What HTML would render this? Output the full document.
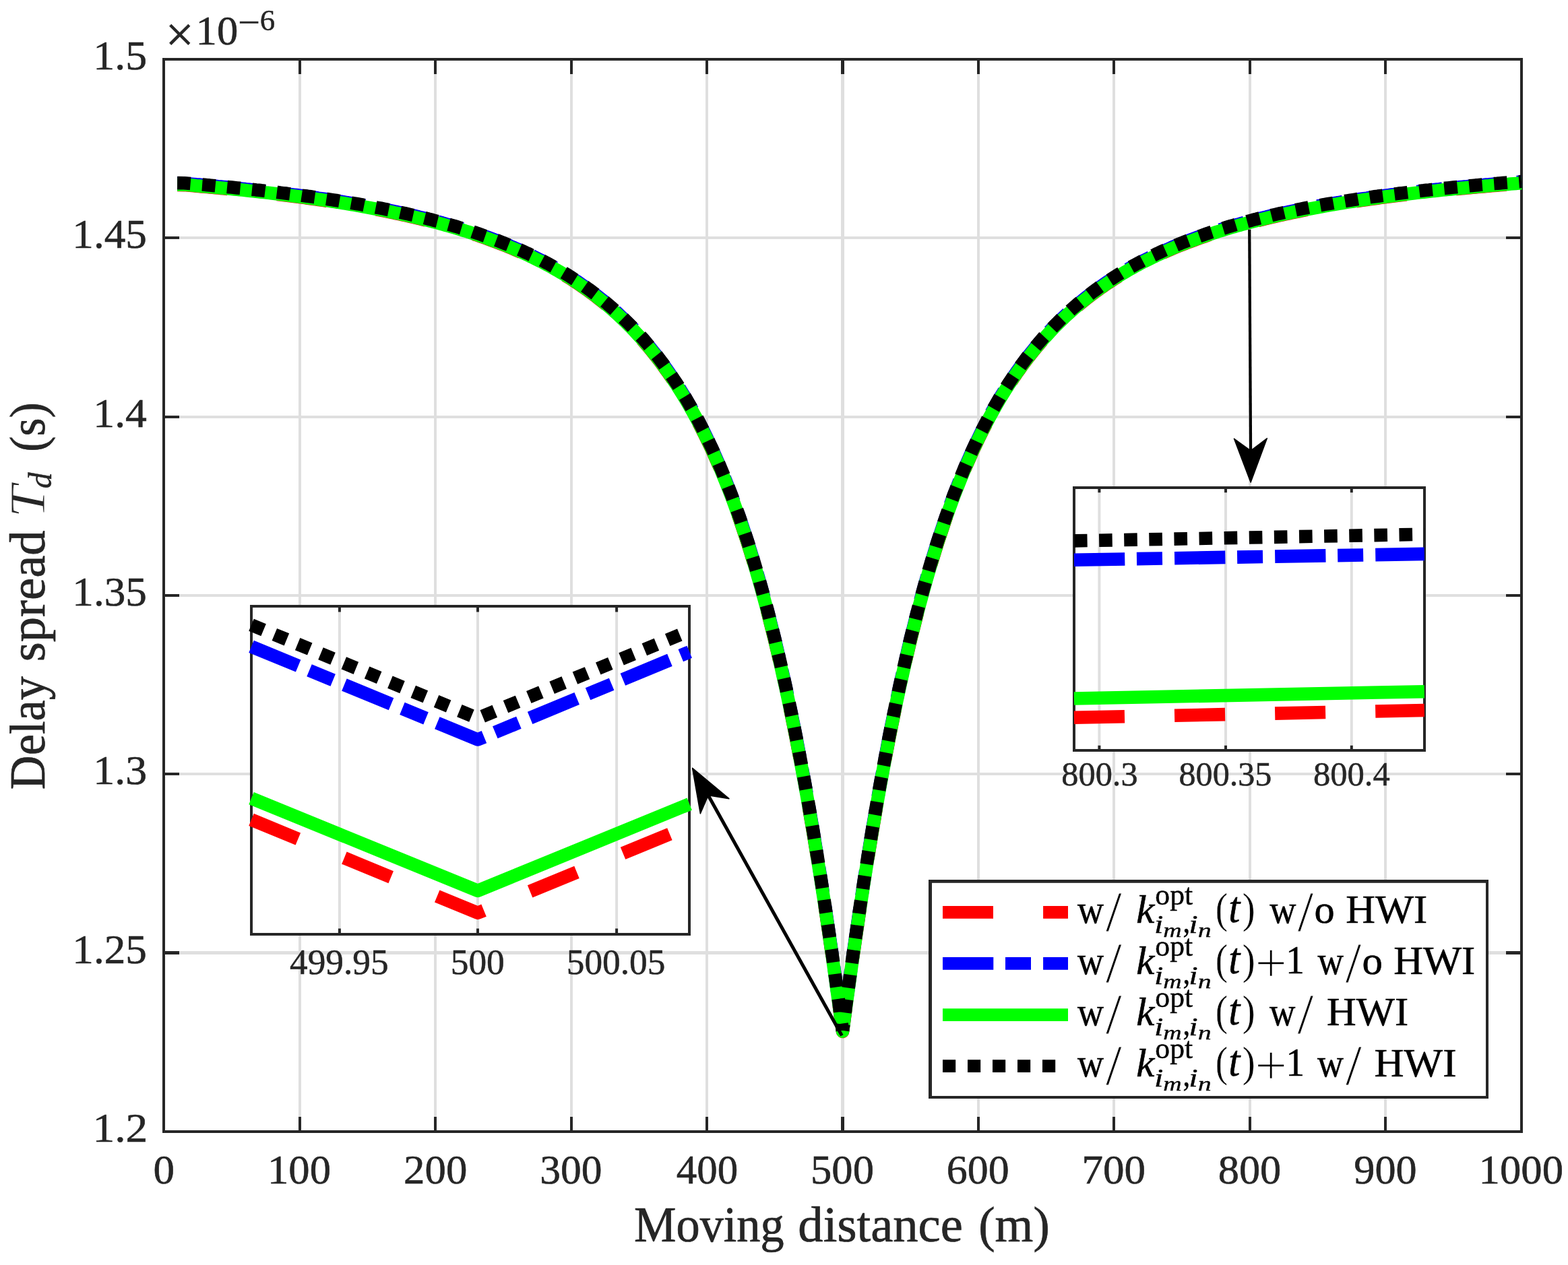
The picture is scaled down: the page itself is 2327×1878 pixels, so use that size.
<!DOCTYPE html>
<html lang="en"><head><meta charset="utf-8"><title>Delay spread versus moving distance</title>
<style>html,body{margin:0;padding:0;background:#fff}svg{display:block}text{font-family:"Liberation Serif",serif;white-space:pre}</style>
</head><body>
<svg width="2327" height="1878" viewBox="0 0 2327 1878">
<rect width="2327" height="1878" fill="#fff"/>
<path d="M445 88.0V1680.0M646 88.0V1680.0M848 88.0V1680.0M1049 88.0V1680.0M1452 88.0V1680.0M1653 88.0V1680.0M1855 88.0V1680.0M2056 88.0V1680.0M243.0 353H2258.0M243.0 619H2258.0M243.0 884H2258.0M243.0 1149H2258.0" stroke="#dfdfdf" stroke-width="4" fill="none"/>
<path d="M1250.5 88.0V1680.0M243.0 1414.5H2258.0" stroke="#dfdfdf" stroke-width="5" fill="none"/>
<path d="M445 88.0v22M445 1680.0v-22M646 88.0v22M646 1680.0v-22M848 88.0v22M848 1680.0v-22M1049 88.0v22M1049 1680.0v-22M1452 88.0v22M1452 1680.0v-22M1653 88.0v22M1653 1680.0v-22M1855 88.0v22M1855 1680.0v-22M2056 88.0v22M2056 1680.0v-22M243.0 353h23M2258.0 353h-23M243.0 619h23M2258.0 619h-23M243.0 884h23M2258.0 884h-23M243.0 1149h23M2258.0 1149h-23" stroke="#262626" stroke-width="4" fill="none"/>
<path d="M1250.5 88.0v22M1250.5 1680.0v-22M243.0 1414.5h23M2258.0 1414.5h-23" stroke="#262626" stroke-width="5" fill="none"/>
<rect x="243.0" y="88.0" width="2015.0" height="1592.0" stroke="#262626" stroke-width="4" fill="none"/>
<g fill="none" stroke-width="19.6" stroke-linejoin="round">
<polyline points="263.1,274.5 273.2,274.6 287.3,275.8 291.4,276.2 295.4,276.5 299.4,276.9 303.4,277.2 307.5,277.6 311.5,278.0 315.5,278.3 319.6,278.7 323.6,279.1 327.6,279.4 331.7,279.8 335.7,280.2 339.7,280.6 343.8,281.0 347.8,281.4 351.8,281.8 355.8,282.2 359.9,282.6 363.9,283.0 367.9,283.5 372.0,283.9 376.0,284.3 380.0,284.8 384.1,285.2 388.1,285.7 392.1,286.1 396.1,286.6 400.2,287.0 404.2,287.5 408.2,288.0 412.3,288.5 416.3,289.0 420.3,289.5 424.4,290.0 428.4,290.5 432.4,291.0 436.4,291.5 440.5,292.0 444.5,292.5 448.5,293.1 452.6,293.6 456.6,294.2 460.6,294.7 464.6,295.3 468.7,295.9 472.7,296.5 476.7,297.0 480.8,297.6 484.8,298.2 488.8,298.9 492.9,299.5 496.9,300.1 500.9,300.7 504.9,301.4 509.0,302.0 513.0,302.7 517.0,303.4 521.1,304.0 525.1,304.7 529.1,305.4 533.2,306.1 537.2,306.8 541.2,307.6 545.2,308.3 549.3,309.1 553.3,309.8 557.3,310.6 561.4,311.4 565.4,312.1 569.4,312.9 573.5,313.8 577.5,314.6 581.5,315.4 585.5,316.3 589.6,317.1 593.6,318.0 597.6,318.9 601.7,319.8 605.7,320.7 609.7,321.6 613.8,322.5 617.8,323.5 621.8,324.5 625.9,325.4 629.9,326.4 633.9,327.4 637.9,328.5 642.0,329.5 646.0,330.6 650.0,331.6 654.1,332.7 658.1,333.8 662.1,335.0 666.1,336.1 670.2,337.3 674.2,338.4 678.2,339.6 682.3,340.9 686.3,342.1 690.3,343.4 694.4,344.6 698.4,345.9 702.4,347.3 706.5,348.6 710.5,350.0 714.5,351.4 718.5,352.8 722.6,354.2 726.6,355.7 730.6,357.2 734.7,358.7 738.7,360.2 742.7,361.8 746.8,363.4 750.8,365.0 754.8,366.6 758.8,368.3 762.9,370.0 766.9,371.8 770.9,373.5 775.0,375.3 779.0,377.2 783.0,379.0 787.0,381.0 791.1,382.9 795.1,384.9 799.1,386.9 803.2,388.9 807.2,391.0 811.2,393.2 815.3,395.3 819.3,397.6 823.3,399.8 827.4,402.1 831.4,404.5 835.4,406.9 839.4,409.3 843.5,411.8 847.5,414.4 851.5,417.0 855.6,419.6 859.6,422.3 863.6,425.1 867.6,427.9 871.7,430.8 875.7,433.7 879.7,436.7 883.8,439.8 887.8,442.9 891.8,446.1 895.9,449.4 899.9,452.7 903.9,456.1 908.0,459.6 912.0,463.2 916.0,466.8 920.0,470.5 924.1,474.4 928.1,478.3 932.1,482.3 936.2,486.3 940.2,490.5 944.2,494.8 948.2,499.2 952.3,503.6 956.3,508.2 960.3,512.9 964.4,517.7 968.4,522.7 972.4,527.7 976.5,532.9 980.5,538.2 984.5,543.6 988.5,549.2 992.6,554.9 996.6,560.8 1000.6,566.8 1004.7,572.9 1008.7,579.2 1012.7,585.7 1016.8,592.3 1020.8,599.2 1024.8,606.2 1028.8,613.3 1032.9,620.7 1036.9,628.3 1040.9,636.1 1045.0,644.0 1049.0,652.2 1053.0,660.7 1057.1,669.3 1061.1,678.2 1065.1,687.3 1069.2,696.7 1073.2,706.4 1077.2,716.3 1081.2,726.5 1085.3,736.9 1089.3,747.7 1093.3,758.8 1097.4,770.2 1101.4,781.9 1105.4,793.9 1109.5,806.3 1113.5,819.0 1117.5,832.1 1121.5,845.5 1125.6,859.4 1129.6,873.6 1133.6,888.2 1137.7,903.3 1141.7,918.8 1145.7,934.7 1149.8,951.0 1153.8,967.8 1157.8,985.1 1161.8,1002.8 1165.9,1021.1 1169.9,1039.8 1173.9,1059.1 1178.0,1078.8 1182.0,1099.1 1186.0,1120.0 1190.0,1141.4 1194.1,1163.3 1198.1,1185.8 1202.1,1208.9 1206.2,1232.6 1210.2,1256.9 1214.2,1281.7 1218.3,1307.2 1222.3,1333.2 1226.3,1359.9 1230.3,1387.2 1234.4,1415.1 1238.4,1443.6 1242.4,1472.7 1246.5,1502.5 1250.5,1531.5 1254.5,1502.5 1258.6,1472.7 1262.6,1443.6 1266.6,1415.1 1270.7,1387.2 1274.7,1359.9 1278.7,1333.2 1282.7,1307.2 1286.8,1281.7 1290.8,1256.9 1294.8,1232.6 1298.9,1208.9 1302.9,1185.8 1306.9,1163.3 1311.0,1141.4 1315.0,1120.0 1319.0,1099.1 1323.0,1078.8 1327.1,1059.1 1331.1,1039.8 1335.1,1021.1 1339.2,1002.8 1343.2,985.1 1347.2,967.8 1351.2,951.0 1355.3,934.7 1359.3,918.8 1363.3,903.3 1367.4,888.2 1371.4,873.6 1375.4,859.4 1379.5,845.5 1383.5,832.1 1387.5,819.0 1391.5,806.3 1395.6,793.9 1399.6,781.9 1403.6,770.2 1407.7,758.8 1411.7,747.7 1415.7,736.9 1419.8,726.5 1423.8,716.3 1427.8,706.4 1431.8,696.7 1435.9,687.3 1439.9,678.2 1443.9,669.3 1448.0,660.7 1452.0,652.2 1456.0,644.0 1460.1,636.1 1464.1,628.3 1468.1,620.7 1472.2,613.3 1476.2,606.2 1480.2,599.2 1484.2,592.3 1488.3,585.7 1492.3,579.2 1496.3,572.9 1500.4,566.8 1504.4,560.8 1508.4,554.9 1512.5,549.2 1516.5,543.6 1520.5,538.2 1524.5,532.9 1528.6,527.7 1532.6,522.7 1536.6,517.7 1540.7,512.9 1544.7,508.2 1548.7,503.6 1552.8,499.2 1556.8,494.8 1560.8,490.5 1564.8,486.3 1568.9,482.3 1572.9,478.3 1576.9,474.4 1581.0,470.5 1585.0,466.8 1589.0,463.2 1593.0,459.6 1597.1,456.1 1601.1,452.7 1605.1,449.4 1609.2,446.1 1613.2,442.9 1617.2,439.8 1621.3,436.7 1625.3,433.7 1629.3,430.8 1633.3,427.9 1637.4,425.1 1641.4,422.3 1645.4,419.6 1649.5,417.0 1653.5,414.4 1657.5,411.8 1661.6,409.3 1665.6,406.9 1669.6,404.5 1673.7,402.1 1677.7,399.8 1681.7,397.6 1685.7,395.3 1689.8,393.2 1693.8,391.0 1697.8,388.9 1701.9,386.9 1705.9,384.9 1709.9,382.9 1714.0,381.0 1718.0,379.0 1722.0,377.2 1726.0,375.3 1730.1,373.5 1734.1,371.8 1738.1,370.0 1742.2,368.3 1746.2,366.6 1750.2,365.0 1754.2,363.4 1758.3,361.8 1762.3,360.2 1766.3,358.7 1770.4,357.2 1774.4,355.7 1778.4,354.2 1782.5,352.8 1786.5,351.4 1790.5,350.0 1794.5,348.6 1798.6,347.3 1802.6,345.9 1806.6,344.6 1810.7,343.4 1814.7,342.1 1818.7,340.9 1822.8,339.6 1826.8,338.4 1830.8,337.3 1834.8,336.1 1838.9,335.0 1842.9,333.8 1846.9,332.7 1851.0,331.6 1855.0,330.6 1859.0,329.5 1863.1,328.5 1867.1,327.4 1871.1,326.4 1875.2,325.4 1879.2,324.5 1883.2,323.5 1887.2,322.5 1891.3,321.6 1895.3,320.7 1899.3,319.8 1903.4,318.9 1907.4,318.0 1911.4,317.1 1915.5,316.3 1919.5,315.4 1923.5,314.6 1927.5,313.8 1931.6,312.9 1935.6,312.1 1939.6,311.4 1943.7,310.6 1947.7,309.8 1951.7,309.1 1955.8,308.3 1959.8,307.6 1963.8,306.8 1967.8,306.1 1971.9,305.4 1975.9,304.7 1979.9,304.0 1984.0,303.4 1988.0,302.7 1992.0,302.0 1996.0,301.4 2000.1,300.7 2004.1,300.1 2008.1,299.5 2012.2,298.9 2016.2,298.2 2020.2,297.6 2024.3,297.0 2028.3,296.5 2032.3,295.9 2036.3,295.3 2040.4,294.7 2044.4,294.2 2048.4,293.6 2052.5,293.1 2056.5,292.5 2060.5,292.0 2064.6,291.5 2068.6,291.0 2072.6,290.5 2076.7,290.0 2080.7,289.5 2084.7,289.0 2088.7,288.5 2092.8,288.0 2096.8,287.5 2100.8,287.0 2104.9,286.6 2108.9,286.1 2112.9,285.7 2116.9,285.2 2121.0,284.8 2125.0,284.3 2129.0,283.9 2133.1,283.5 2137.1,283.0 2141.1,282.6 2145.2,282.2 2149.2,281.8 2153.2,281.4 2157.2,281.0 2161.3,280.6 2165.3,280.2 2169.3,279.8 2173.4,279.4 2177.4,279.1 2181.4,278.7 2185.5,278.3 2189.5,278.0 2193.5,277.6 2197.6,277.2 2201.6,276.9 2205.6,276.5 2209.6,276.2 2213.7,275.8 2217.7,275.5 2221.7,275.2 2225.8,274.8 2229.8,274.5 2233.8,274.2 2237.8,273.9 2241.9,273.5 2245.9,273.2 2249.9,272.9 2254.0,272.6 2258.0,272.3" stroke="#f00" stroke-dasharray="75 74.1"/>
<polyline points="263.1,272.1 273.2,272.2 287.3,273.4 291.4,273.8 295.4,274.1 299.4,274.5 303.4,274.8 307.5,275.2 311.5,275.6 315.5,275.9 319.6,276.3 323.6,276.7 327.6,277.0 331.7,277.4 335.7,277.8 339.7,278.2 343.8,278.6 347.8,279.0 351.8,279.4 355.8,279.8 359.9,280.2 363.9,280.6 367.9,281.1 372.0,281.5 376.0,281.9 380.0,282.4 384.1,282.8 388.1,283.3 392.1,283.7 396.1,284.2 400.2,284.6 404.2,285.1 408.2,285.6 412.3,286.1 416.3,286.6 420.3,287.1 424.4,287.6 428.4,288.1 432.4,288.6 436.4,289.1 440.5,289.6 444.5,290.1 448.5,290.7 452.6,291.2 456.6,291.8 460.6,292.3 464.6,292.9 468.7,293.5 472.7,294.1 476.7,294.6 480.8,295.2 484.8,295.8 488.8,296.5 492.9,297.1 496.9,297.7 500.9,298.3 504.9,299.0 509.0,299.6 513.0,300.3 517.0,301.0 521.1,301.6 525.1,302.3 529.1,303.0 533.2,303.7 537.2,304.4 541.2,305.2 545.2,305.9 549.3,306.7 553.3,307.4 557.3,308.2 561.4,309.0 565.4,309.7 569.4,310.5 573.5,311.4 577.5,312.2 581.5,313.0 585.5,313.9 589.6,314.7 593.6,315.6 597.6,316.5 601.7,317.4 605.7,318.3 609.7,319.2 613.8,320.1 617.8,321.1 621.8,322.1 625.9,323.0 629.9,324.0 633.9,325.0 637.9,326.1 642.0,327.1 646.0,328.2 650.0,329.2 654.1,330.3 658.1,331.4 662.1,332.6 666.1,333.7 670.2,334.9 674.2,336.0 678.2,337.2 682.3,338.5 686.3,339.7 690.3,341.0 694.4,342.2 698.4,343.5 702.4,344.9 706.5,346.2 710.5,347.6 714.5,349.0 718.5,350.4 722.6,351.8 726.6,353.3 730.6,354.8 734.7,356.3 738.7,357.8 742.7,359.4 746.8,361.0 750.8,362.6 754.8,364.2 758.8,365.9 762.9,367.6 766.9,369.4 770.9,371.1 775.0,372.9 779.0,374.8 783.0,376.6 787.0,378.6 791.1,380.5 795.1,382.5 799.1,384.5 803.2,386.5 807.2,388.6 811.2,390.8 815.3,392.9 819.3,395.2 823.3,397.4 827.4,399.7 831.4,402.1 835.4,404.5 839.4,406.9 843.5,409.4 847.5,412.0 851.5,414.6 855.6,417.2 859.6,419.9 863.6,422.7 867.6,425.5 871.7,428.4 875.7,431.3 879.7,434.3 883.8,437.4 887.8,440.5 891.8,443.7 895.9,447.0 899.9,450.3 903.9,453.7 908.0,457.2 912.0,460.8 916.0,464.4 920.0,468.1 924.1,472.0 928.1,475.9 932.1,479.9 936.2,483.9 940.2,488.1 944.2,492.4 948.2,496.8 952.3,501.2 956.3,505.8 960.3,510.5 964.4,515.3 968.4,520.3 972.4,525.3 976.5,530.5 980.5,535.8 984.5,541.2 988.5,546.8 992.6,552.5 996.6,558.4 1000.6,564.4 1004.7,570.5 1008.7,576.8 1012.7,583.3 1016.8,589.9 1020.8,596.8 1024.8,603.8 1028.8,610.9 1032.9,618.3 1036.9,625.9 1040.9,633.7 1045.0,641.6 1049.0,649.8 1053.0,658.3 1057.1,666.9 1061.1,675.8 1065.1,684.9 1069.2,694.3 1073.2,704.0 1077.2,713.9 1081.2,724.1 1085.3,734.5 1089.3,745.3 1093.3,756.4 1097.4,767.8 1101.4,779.5 1105.4,791.5 1109.5,803.9 1113.5,816.6 1117.5,829.7 1121.5,843.1 1125.6,857.0 1129.6,871.2 1133.6,885.8 1137.7,900.9 1141.7,916.4 1145.7,932.3 1149.8,948.6 1153.8,965.4 1157.8,982.7 1161.8,1000.4 1165.9,1018.7 1169.9,1037.4 1173.9,1056.7 1178.0,1076.4 1182.0,1096.7 1186.0,1117.6 1190.0,1139.0 1194.1,1160.9 1198.1,1183.4 1202.1,1206.5 1206.2,1230.2 1210.2,1254.5 1214.2,1279.3 1218.3,1304.8 1222.3,1330.8 1226.3,1357.5 1230.3,1384.8 1234.4,1412.7 1238.4,1441.2 1242.4,1470.3 1246.5,1500.1 1250.5,1530.2 1254.5,1500.1 1258.6,1470.3 1262.6,1441.2 1266.6,1412.7 1270.7,1384.8 1274.7,1357.5 1278.7,1330.8 1282.7,1304.8 1286.8,1279.3 1290.8,1254.5 1294.8,1230.2 1298.9,1206.5 1302.9,1183.4 1306.9,1160.9 1311.0,1139.0 1315.0,1117.6 1319.0,1096.7 1323.0,1076.4 1327.1,1056.7 1331.1,1037.4 1335.1,1018.7 1339.2,1000.4 1343.2,982.7 1347.2,965.4 1351.2,948.6 1355.3,932.3 1359.3,916.4 1363.3,900.9 1367.4,885.8 1371.4,871.2 1375.4,857.0 1379.5,843.1 1383.5,829.7 1387.5,816.6 1391.5,803.9 1395.6,791.5 1399.6,779.5 1403.6,767.8 1407.7,756.4 1411.7,745.3 1415.7,734.5 1419.8,724.1 1423.8,713.9 1427.8,704.0 1431.8,694.3 1435.9,684.9 1439.9,675.8 1443.9,666.9 1448.0,658.3 1452.0,649.8 1456.0,641.6 1460.1,633.7 1464.1,625.9 1468.1,618.3 1472.2,610.9 1476.2,603.8 1480.2,596.8 1484.2,589.9 1488.3,583.3 1492.3,576.8 1496.3,570.5 1500.4,564.4 1504.4,558.4 1508.4,552.5 1512.5,546.8 1516.5,541.2 1520.5,535.8 1524.5,530.5 1528.6,525.3 1532.6,520.3 1536.6,515.3 1540.7,510.5 1544.7,505.8 1548.7,501.2 1552.8,496.8 1556.8,492.4 1560.8,488.1 1564.8,483.9 1568.9,479.9 1572.9,475.9 1576.9,472.0 1581.0,468.1 1585.0,464.4 1589.0,460.8 1593.0,457.2 1597.1,453.7 1601.1,450.3 1605.1,447.0 1609.2,443.7 1613.2,440.5 1617.2,437.4 1621.3,434.3 1625.3,431.3 1629.3,428.4 1633.3,425.5 1637.4,422.7 1641.4,419.9 1645.4,417.2 1649.5,414.6 1653.5,412.0 1657.5,409.4 1661.6,406.9 1665.6,404.5 1669.6,402.1 1673.7,399.7 1677.7,397.4 1681.7,395.2 1685.7,392.9 1689.8,390.8 1693.8,388.6 1697.8,386.5 1701.9,384.5 1705.9,382.5 1709.9,380.5 1714.0,378.6 1718.0,376.6 1722.0,374.8 1726.0,372.9 1730.1,371.1 1734.1,369.4 1738.1,367.6 1742.2,365.9 1746.2,364.2 1750.2,362.6 1754.2,361.0 1758.3,359.4 1762.3,357.8 1766.3,356.3 1770.4,354.8 1774.4,353.3 1778.4,351.8 1782.5,350.4 1786.5,349.0 1790.5,347.6 1794.5,346.2 1798.6,344.9 1802.6,343.5 1806.6,342.2 1810.7,341.0 1814.7,339.7 1818.7,338.5 1822.8,337.2 1826.8,336.0 1830.8,334.9 1834.8,333.7 1838.9,332.6 1842.9,331.4 1846.9,330.3 1851.0,329.2 1855.0,328.2 1859.0,327.1 1863.1,326.1 1867.1,325.0 1871.1,324.0 1875.2,323.0 1879.2,322.1 1883.2,321.1 1887.2,320.1 1891.3,319.2 1895.3,318.3 1899.3,317.4 1903.4,316.5 1907.4,315.6 1911.4,314.7 1915.5,313.9 1919.5,313.0 1923.5,312.2 1927.5,311.4 1931.6,310.5 1935.6,309.7 1939.6,309.0 1943.7,308.2 1947.7,307.4 1951.7,306.7 1955.8,305.9 1959.8,305.2 1963.8,304.4 1967.8,303.7 1971.9,303.0 1975.9,302.3 1979.9,301.6 1984.0,301.0 1988.0,300.3 1992.0,299.6 1996.0,299.0 2000.1,298.3 2004.1,297.7 2008.1,297.1 2012.2,296.5 2016.2,295.8 2020.2,295.2 2024.3,294.6 2028.3,294.1 2032.3,293.5 2036.3,292.9 2040.4,292.3 2044.4,291.8 2048.4,291.2 2052.5,290.7 2056.5,290.1 2060.5,289.6 2064.6,289.1 2068.6,288.6 2072.6,288.1 2076.7,287.6 2080.7,287.1 2084.7,286.6 2088.7,286.1 2092.8,285.6 2096.8,285.1 2100.8,284.6 2104.9,284.2 2108.9,283.7 2112.9,283.3 2116.9,282.8 2121.0,282.4 2125.0,281.9 2129.0,281.5 2133.1,281.1 2137.1,280.6 2141.1,280.2 2145.2,279.8 2149.2,279.4 2153.2,279.0 2157.2,278.6 2161.3,278.2 2165.3,277.8 2169.3,277.4 2173.4,277.0 2177.4,276.7 2181.4,276.3 2185.5,275.9 2189.5,275.6 2193.5,275.2 2197.6,274.8 2201.6,274.5 2205.6,274.1 2209.6,273.8 2213.7,273.4 2217.7,273.1 2221.7,272.8 2225.8,272.4 2229.8,272.1 2233.8,271.8 2237.8,271.5 2241.9,271.1 2245.9,270.8 2249.9,270.5 2254.0,270.2 2258.0,269.9" stroke="#00f" stroke-dasharray="75.3 17.7 38 18.1"/>
<polyline points="263.1,274.0 273.2,274.1 287.3,275.3 291.4,275.7 295.4,276.0 299.4,276.4 303.4,276.7 307.5,277.1 311.5,277.5 315.5,277.8 319.6,278.2 323.6,278.6 327.6,278.9 331.7,279.3 335.7,279.7 339.7,280.1 343.8,280.5 347.8,280.9 351.8,281.3 355.8,281.7 359.9,282.1 363.9,282.5 367.9,283.0 372.0,283.4 376.0,283.8 380.0,284.3 384.1,284.7 388.1,285.2 392.1,285.6 396.1,286.1 400.2,286.5 404.2,287.0 408.2,287.5 412.3,288.0 416.3,288.5 420.3,289.0 424.4,289.5 428.4,290.0 432.4,290.5 436.4,291.0 440.5,291.5 444.5,292.0 448.5,292.6 452.6,293.1 456.6,293.7 460.6,294.2 464.6,294.8 468.7,295.4 472.7,296.0 476.7,296.5 480.8,297.1 484.8,297.7 488.8,298.4 492.9,299.0 496.9,299.6 500.9,300.2 504.9,300.9 509.0,301.5 513.0,302.2 517.0,302.9 521.1,303.5 525.1,304.2 529.1,304.9 533.2,305.6 537.2,306.3 541.2,307.1 545.2,307.8 549.3,308.6 553.3,309.3 557.3,310.1 561.4,310.9 565.4,311.6 569.4,312.4 573.5,313.3 577.5,314.1 581.5,314.9 585.5,315.8 589.6,316.6 593.6,317.5 597.6,318.4 601.7,319.3 605.7,320.2 609.7,321.1 613.8,322.0 617.8,323.0 621.8,324.0 625.9,324.9 629.9,325.9 633.9,326.9 637.9,328.0 642.0,329.0 646.0,330.1 650.0,331.1 654.1,332.2 658.1,333.3 662.1,334.5 666.1,335.6 670.2,336.8 674.2,337.9 678.2,339.1 682.3,340.4 686.3,341.6 690.3,342.9 694.4,344.1 698.4,345.4 702.4,346.8 706.5,348.1 710.5,349.5 714.5,350.9 718.5,352.3 722.6,353.7 726.6,355.2 730.6,356.7 734.7,358.2 738.7,359.7 742.7,361.3 746.8,362.9 750.8,364.5 754.8,366.1 758.8,367.8 762.9,369.5 766.9,371.3 770.9,373.0 775.0,374.8 779.0,376.7 783.0,378.5 787.0,380.5 791.1,382.4 795.1,384.4 799.1,386.4 803.2,388.4 807.2,390.5 811.2,392.7 815.3,394.8 819.3,397.1 823.3,399.3 827.4,401.6 831.4,404.0 835.4,406.4 839.4,408.8 843.5,411.3 847.5,413.9 851.5,416.5 855.6,419.1 859.6,421.8 863.6,424.6 867.6,427.4 871.7,430.3 875.7,433.2 879.7,436.2 883.8,439.3 887.8,442.4 891.8,445.6 895.9,448.9 899.9,452.2 903.9,455.6 908.0,459.1 912.0,462.7 916.0,466.3 920.0,470.0 924.1,473.9 928.1,477.8 932.1,481.8 936.2,485.8 940.2,490.0 944.2,494.3 948.2,498.7 952.3,503.1 956.3,507.7 960.3,512.4 964.4,517.2 968.4,522.2 972.4,527.2 976.5,532.4 980.5,537.7 984.5,543.1 988.5,548.7 992.6,554.4 996.6,560.3 1000.6,566.3 1004.7,572.4 1008.7,578.7 1012.7,585.2 1016.8,591.8 1020.8,598.7 1024.8,605.7 1028.8,612.8 1032.9,620.2 1036.9,627.8 1040.9,635.6 1045.0,643.5 1049.0,651.7 1053.0,660.2 1057.1,668.8 1061.1,677.7 1065.1,686.8 1069.2,696.2 1073.2,705.9 1077.2,715.8 1081.2,726.0 1085.3,736.4 1089.3,747.2 1093.3,758.3 1097.4,769.7 1101.4,781.4 1105.4,793.4 1109.5,805.8 1113.5,818.5 1117.5,831.6 1121.5,845.0 1125.6,858.9 1129.6,873.1 1133.6,887.7 1137.7,902.8 1141.7,918.3 1145.7,934.2 1149.8,950.5 1153.8,967.3 1157.8,984.6 1161.8,1002.3 1165.9,1020.6 1169.9,1039.3 1173.9,1058.6 1178.0,1078.3 1182.0,1098.6 1186.0,1119.5 1190.0,1140.9 1194.1,1162.8 1198.1,1185.3 1202.1,1208.4 1206.2,1232.1 1210.2,1256.4 1214.2,1281.2 1218.3,1306.7 1222.3,1332.7 1226.3,1359.4 1230.3,1386.7 1234.4,1414.6 1238.4,1443.1 1242.4,1472.2 1246.5,1502.0 1250.5,1531.1 1254.5,1502.0 1258.6,1472.2 1262.6,1443.1 1266.6,1414.6 1270.7,1386.7 1274.7,1359.4 1278.7,1332.7 1282.7,1306.7 1286.8,1281.2 1290.8,1256.4 1294.8,1232.1 1298.9,1208.4 1302.9,1185.3 1306.9,1162.8 1311.0,1140.9 1315.0,1119.5 1319.0,1098.6 1323.0,1078.3 1327.1,1058.6 1331.1,1039.3 1335.1,1020.6 1339.2,1002.3 1343.2,984.6 1347.2,967.3 1351.2,950.5 1355.3,934.2 1359.3,918.3 1363.3,902.8 1367.4,887.7 1371.4,873.1 1375.4,858.9 1379.5,845.0 1383.5,831.6 1387.5,818.5 1391.5,805.8 1395.6,793.4 1399.6,781.4 1403.6,769.7 1407.7,758.3 1411.7,747.2 1415.7,736.4 1419.8,726.0 1423.8,715.8 1427.8,705.9 1431.8,696.2 1435.9,686.8 1439.9,677.7 1443.9,668.8 1448.0,660.2 1452.0,651.7 1456.0,643.5 1460.1,635.6 1464.1,627.8 1468.1,620.2 1472.2,612.8 1476.2,605.7 1480.2,598.7 1484.2,591.8 1488.3,585.2 1492.3,578.7 1496.3,572.4 1500.4,566.3 1504.4,560.3 1508.4,554.4 1512.5,548.7 1516.5,543.1 1520.5,537.7 1524.5,532.4 1528.6,527.2 1532.6,522.2 1536.6,517.2 1540.7,512.4 1544.7,507.7 1548.7,503.1 1552.8,498.7 1556.8,494.3 1560.8,490.0 1564.8,485.8 1568.9,481.8 1572.9,477.8 1576.9,473.9 1581.0,470.0 1585.0,466.3 1589.0,462.7 1593.0,459.1 1597.1,455.6 1601.1,452.2 1605.1,448.9 1609.2,445.6 1613.2,442.4 1617.2,439.3 1621.3,436.2 1625.3,433.2 1629.3,430.3 1633.3,427.4 1637.4,424.6 1641.4,421.8 1645.4,419.1 1649.5,416.5 1653.5,413.9 1657.5,411.3 1661.6,408.8 1665.6,406.4 1669.6,404.0 1673.7,401.6 1677.7,399.3 1681.7,397.1 1685.7,394.8 1689.8,392.7 1693.8,390.5 1697.8,388.4 1701.9,386.4 1705.9,384.4 1709.9,382.4 1714.0,380.5 1718.0,378.5 1722.0,376.7 1726.0,374.8 1730.1,373.0 1734.1,371.3 1738.1,369.5 1742.2,367.8 1746.2,366.1 1750.2,364.5 1754.2,362.9 1758.3,361.3 1762.3,359.7 1766.3,358.2 1770.4,356.7 1774.4,355.2 1778.4,353.7 1782.5,352.3 1786.5,350.9 1790.5,349.5 1794.5,348.1 1798.6,346.8 1802.6,345.4 1806.6,344.1 1810.7,342.9 1814.7,341.6 1818.7,340.4 1822.8,339.1 1826.8,337.9 1830.8,336.8 1834.8,335.6 1838.9,334.5 1842.9,333.3 1846.9,332.2 1851.0,331.1 1855.0,330.1 1859.0,329.0 1863.1,328.0 1867.1,326.9 1871.1,325.9 1875.2,324.9 1879.2,324.0 1883.2,323.0 1887.2,322.0 1891.3,321.1 1895.3,320.2 1899.3,319.3 1903.4,318.4 1907.4,317.5 1911.4,316.6 1915.5,315.8 1919.5,314.9 1923.5,314.1 1927.5,313.3 1931.6,312.4 1935.6,311.6 1939.6,310.9 1943.7,310.1 1947.7,309.3 1951.7,308.6 1955.8,307.8 1959.8,307.1 1963.8,306.3 1967.8,305.6 1971.9,304.9 1975.9,304.2 1979.9,303.5 1984.0,302.9 1988.0,302.2 1992.0,301.5 1996.0,300.9 2000.1,300.2 2004.1,299.6 2008.1,299.0 2012.2,298.4 2016.2,297.7 2020.2,297.1 2024.3,296.5 2028.3,296.0 2032.3,295.4 2036.3,294.8 2040.4,294.2 2044.4,293.7 2048.4,293.1 2052.5,292.6 2056.5,292.0 2060.5,291.5 2064.6,291.0 2068.6,290.5 2072.6,290.0 2076.7,289.5 2080.7,289.0 2084.7,288.5 2088.7,288.0 2092.8,287.5 2096.8,287.0 2100.8,286.5 2104.9,286.1 2108.9,285.6 2112.9,285.2 2116.9,284.7 2121.0,284.3 2125.0,283.8 2129.0,283.4 2133.1,283.0 2137.1,282.5 2141.1,282.1 2145.2,281.7 2149.2,281.3 2153.2,280.9 2157.2,280.5 2161.3,280.1 2165.3,279.7 2169.3,279.3 2173.4,278.9 2177.4,278.6 2181.4,278.2 2185.5,277.8 2189.5,277.5 2193.5,277.1 2197.6,276.7 2201.6,276.4 2205.6,276.0 2209.6,275.7 2213.7,275.3 2217.7,275.0 2221.7,274.7 2225.8,274.3 2229.8,274.0 2233.8,273.7 2237.8,273.4 2241.9,273.0 2245.9,272.7 2249.9,272.4 2254.0,272.1 2258.0,271.8" stroke="#0f0"/>
<polyline points="263.1,271.6 273.2,271.7 287.3,272.9 291.4,273.3 295.4,273.6 299.4,274.0 303.4,274.3 307.5,274.7 311.5,275.1 315.5,275.4 319.6,275.8 323.6,276.2 327.6,276.5 331.7,276.9 335.7,277.3 339.7,277.7 343.8,278.1 347.8,278.5 351.8,278.9 355.8,279.3 359.9,279.7 363.9,280.1 367.9,280.6 372.0,281.0 376.0,281.4 380.0,281.9 384.1,282.3 388.1,282.8 392.1,283.2 396.1,283.7 400.2,284.1 404.2,284.6 408.2,285.1 412.3,285.6 416.3,286.1 420.3,286.6 424.4,287.1 428.4,287.6 432.4,288.1 436.4,288.6 440.5,289.1 444.5,289.6 448.5,290.2 452.6,290.7 456.6,291.3 460.6,291.8 464.6,292.4 468.7,293.0 472.7,293.6 476.7,294.1 480.8,294.7 484.8,295.3 488.8,296.0 492.9,296.6 496.9,297.2 500.9,297.8 504.9,298.5 509.0,299.1 513.0,299.8 517.0,300.5 521.1,301.1 525.1,301.8 529.1,302.5 533.2,303.2 537.2,303.9 541.2,304.7 545.2,305.4 549.3,306.2 553.3,306.9 557.3,307.7 561.4,308.5 565.4,309.2 569.4,310.0 573.5,310.9 577.5,311.7 581.5,312.5 585.5,313.4 589.6,314.2 593.6,315.1 597.6,316.0 601.7,316.9 605.7,317.8 609.7,318.7 613.8,319.6 617.8,320.6 621.8,321.6 625.9,322.5 629.9,323.5 633.9,324.5 637.9,325.6 642.0,326.6 646.0,327.7 650.0,328.7 654.1,329.8 658.1,330.9 662.1,332.1 666.1,333.2 670.2,334.4 674.2,335.5 678.2,336.7 682.3,338.0 686.3,339.2 690.3,340.5 694.4,341.7 698.4,343.0 702.4,344.4 706.5,345.7 710.5,347.1 714.5,348.5 718.5,349.9 722.6,351.3 726.6,352.8 730.6,354.3 734.7,355.8 738.7,357.3 742.7,358.9 746.8,360.5 750.8,362.1 754.8,363.7 758.8,365.4 762.9,367.1 766.9,368.9 770.9,370.6 775.0,372.4 779.0,374.3 783.0,376.1 787.0,378.1 791.1,380.0 795.1,382.0 799.1,384.0 803.2,386.0 807.2,388.1 811.2,390.3 815.3,392.4 819.3,394.7 823.3,396.9 827.4,399.2 831.4,401.6 835.4,404.0 839.4,406.4 843.5,408.9 847.5,411.5 851.5,414.1 855.6,416.7 859.6,419.4 863.6,422.2 867.6,425.0 871.7,427.9 875.7,430.8 879.7,433.8 883.8,436.9 887.8,440.0 891.8,443.2 895.9,446.5 899.9,449.8 903.9,453.2 908.0,456.7 912.0,460.3 916.0,463.9 920.0,467.6 924.1,471.5 928.1,475.4 932.1,479.4 936.2,483.4 940.2,487.6 944.2,491.9 948.2,496.3 952.3,500.7 956.3,505.3 960.3,510.0 964.4,514.8 968.4,519.8 972.4,524.8 976.5,530.0 980.5,535.3 984.5,540.7 988.5,546.3 992.6,552.0 996.6,557.9 1000.6,563.9 1004.7,570.0 1008.7,576.3 1012.7,582.8 1016.8,589.4 1020.8,596.3 1024.8,603.3 1028.8,610.4 1032.9,617.8 1036.9,625.4 1040.9,633.2 1045.0,641.1 1049.0,649.3 1053.0,657.8 1057.1,666.4 1061.1,675.3 1065.1,684.4 1069.2,693.8 1073.2,703.5 1077.2,713.4 1081.2,723.6 1085.3,734.0 1089.3,744.8 1093.3,755.9 1097.4,767.3 1101.4,779.0 1105.4,791.0 1109.5,803.4 1113.5,816.1 1117.5,829.2 1121.5,842.6 1125.6,856.5 1129.6,870.7 1133.6,885.3 1137.7,900.4 1141.7,915.9 1145.7,931.8 1149.8,948.1 1153.8,964.9 1157.8,982.2 1161.8,999.9 1165.9,1018.2 1169.9,1036.9 1173.9,1056.2 1178.0,1075.9 1182.0,1096.2 1186.0,1117.1 1190.0,1138.5 1194.1,1160.4 1198.1,1182.9 1202.1,1206.0 1206.2,1229.7 1210.2,1254.0 1214.2,1278.8 1218.3,1304.3 1222.3,1330.3 1226.3,1357.0 1230.3,1384.3 1234.4,1412.2 1238.4,1440.7 1242.4,1469.8 1246.5,1499.6 1250.5,1529.9" stroke="#000" stroke-dasharray="19.6 17.52"/>
<polyline points="1250.5,1529.9 1254.5,1499.6 1258.6,1469.8 1262.6,1440.7 1266.6,1412.2 1270.7,1384.3 1274.7,1357.0 1278.7,1330.3 1282.7,1304.3 1286.8,1278.8 1290.8,1254.0 1294.8,1229.7 1298.9,1206.0 1302.9,1182.9 1306.9,1160.4 1311.0,1138.5 1315.0,1117.1 1319.0,1096.2 1323.0,1075.9 1327.1,1056.2 1331.1,1036.9 1335.1,1018.2 1339.2,999.9 1343.2,982.2 1347.2,964.9 1351.2,948.1 1355.3,931.8 1359.3,915.9 1363.3,900.4 1367.4,885.3 1371.4,870.7 1375.4,856.5 1379.5,842.6 1383.5,829.2 1387.5,816.1 1391.5,803.4 1395.6,791.0 1399.6,779.0 1403.6,767.3 1407.7,755.9 1411.7,744.8 1415.7,734.0 1419.8,723.6 1423.8,713.4 1427.8,703.5 1431.8,693.8 1435.9,684.4 1439.9,675.3 1443.9,666.4 1448.0,657.8 1452.0,649.3 1456.0,641.1 1460.1,633.2 1464.1,625.4 1468.1,617.8 1472.2,610.4 1476.2,603.3 1480.2,596.3 1484.2,589.4 1488.3,582.8 1492.3,576.3 1496.3,570.0 1500.4,563.9 1504.4,557.9 1508.4,552.0 1512.5,546.3 1516.5,540.7 1520.5,535.3 1524.5,530.0 1528.6,524.8 1532.6,519.8 1536.6,514.8 1540.7,510.0 1544.7,505.3 1548.7,500.7 1552.8,496.3 1556.8,491.9 1560.8,487.6 1564.8,483.4 1568.9,479.4 1572.9,475.4 1576.9,471.5 1581.0,467.6 1585.0,463.9 1589.0,460.3 1593.0,456.7 1597.1,453.2 1601.1,449.8 1605.1,446.5 1609.2,443.2 1613.2,440.0 1617.2,436.9 1621.3,433.8 1625.3,430.8 1629.3,427.9 1633.3,425.0 1637.4,422.2 1641.4,419.4 1645.4,416.7 1649.5,414.1 1653.5,411.5 1657.5,408.9 1661.6,406.4 1665.6,404.0 1669.6,401.6 1673.7,399.2 1677.7,396.9 1681.7,394.7 1685.7,392.4 1689.8,390.3 1693.8,388.1 1697.8,386.0 1701.9,384.0 1705.9,382.0 1709.9,380.0 1714.0,378.1 1718.0,376.1 1722.0,374.3 1726.0,372.4 1730.1,370.6 1734.1,368.9 1738.1,367.1 1742.2,365.4 1746.2,363.7 1750.2,362.1 1754.2,360.5 1758.3,358.9 1762.3,357.3 1766.3,355.8 1770.4,354.3 1774.4,352.8 1778.4,351.3 1782.5,349.9 1786.5,348.5 1790.5,347.1 1794.5,345.7 1798.6,344.4 1802.6,343.0 1806.6,341.7 1810.7,340.5 1814.7,339.2 1818.7,338.0 1822.8,336.7 1826.8,335.5 1830.8,334.4 1834.8,333.2 1838.9,332.1 1842.9,330.9 1846.9,329.8 1851.0,328.7 1855.0,327.7 1859.0,326.6 1863.1,325.6 1867.1,324.5 1871.1,323.5 1875.2,322.5 1879.2,321.6 1883.2,320.6 1887.2,319.6 1891.3,318.7 1895.3,317.8 1899.3,316.9 1903.4,316.0 1907.4,315.1 1911.4,314.2 1915.5,313.4 1919.5,312.5 1923.5,311.7 1927.5,310.9 1931.6,310.0 1935.6,309.2 1939.6,308.5 1943.7,307.7 1947.7,306.9 1951.7,306.2 1955.8,305.4 1959.8,304.7 1963.8,303.9 1967.8,303.2 1971.9,302.5 1975.9,301.8 1979.9,301.1 1984.0,300.5 1988.0,299.8 1992.0,299.1 1996.0,298.5 2000.1,297.8 2004.1,297.2 2008.1,296.6 2012.2,296.0 2016.2,295.3 2020.2,294.7 2024.3,294.1 2028.3,293.6 2032.3,293.0 2036.3,292.4 2040.4,291.8 2044.4,291.3 2048.4,290.7 2052.5,290.2 2056.5,289.6 2060.5,289.1 2064.6,288.6 2068.6,288.1 2072.6,287.6 2076.7,287.1 2080.7,286.6 2084.7,286.1 2088.7,285.6 2092.8,285.1 2096.8,284.6 2100.8,284.1 2104.9,283.7 2108.9,283.2 2112.9,282.8 2116.9,282.3 2121.0,281.9 2125.0,281.4 2129.0,281.0 2133.1,280.6 2137.1,280.1 2141.1,279.7 2145.2,279.3 2149.2,278.9 2153.2,278.5 2157.2,278.1 2161.3,277.7 2165.3,277.3 2169.3,276.9 2173.4,276.5 2177.4,276.2 2181.4,275.8 2185.5,275.4 2189.5,275.1 2193.5,274.7 2197.6,274.3 2201.6,274.0 2205.6,273.6 2209.6,273.3 2213.7,272.9 2217.7,272.6 2221.7,272.3 2225.8,271.9 2229.8,271.6 2233.8,271.3 2237.8,271.0 2241.9,270.6 2245.9,270.3 2249.9,270.0 2254.0,269.7 2258.0,269.4" stroke="#000" stroke-dasharray="19.6 17.52" stroke-dashoffset="10.34"/>
</g>
<rect x="1378" y="1306" width="831" height="325" fill="#262626"/>
<rect x="1383" y="1310.8" width="822" height="316.2" fill="#fff"/>
<g fill="none" stroke-width="18.8">
<path d="M1399 1354.4H1585" stroke="#f00" stroke-dasharray="75 74.1"/>
<path d="M1399 1430.47H1585" stroke="#00f" stroke-dasharray="75.3 17.7 38 18.1"/>
<path d="M1399 1506.54H1585" stroke="#0f0"/>
<path d="M1399 1582.61H1570" stroke="#000" stroke-dasharray="19.2 17.8"/>
</g>
<g font-family="'Liberation Serif',serif">
<text fill="#000" stroke="#000"><tspan x="1599.1" y="1369.6" font-size="59.85" textLength="39.05" lengthAdjust="spacingAndGlyphs" stroke-width="0.60">w</tspan><tspan x="1641" y="1382.17" font-size="85.43" textLength="23.63" lengthAdjust="spacingAndGlyphs" stroke="#fff" stroke-width="0.80">/</tspan><tspan stroke="none"> </tspan><tspan x="1686.22" y="1369.6" font-size="58.99" font-style="italic" textLength="27.04" lengthAdjust="spacingAndGlyphs" stroke-width="0.59">k</tspan><tspan x="1714.36" y="1342.7" font-size="44.07" textLength="55.87" lengthAdjust="spacingAndGlyphs" stroke-width="0.44">opt</tspan><tspan x="1712.97" y="1384.7" font-size="38.79" font-style="italic" textLength="13.47" lengthAdjust="spacingAndGlyphs" stroke-width="0.39">i</tspan><tspan x="1726.37" y="1391" font-size="30.21" font-style="italic" textLength="27.43" lengthAdjust="spacingAndGlyphs" stroke-width="0.30">m</tspan><tspan x="1755.4" y="1384.26" font-size="49.32" textLength="10.67" lengthAdjust="spacingAndGlyphs" stroke-width="0.49">,</tspan><tspan x="1764.27" y="1384.7" font-size="38.79" font-style="italic" textLength="13.47" lengthAdjust="spacingAndGlyphs" stroke-width="0.39">i</tspan><tspan x="1777.7" y="1391" font-size="30.21" font-style="italic" textLength="20" lengthAdjust="spacingAndGlyphs" stroke-width="0.30">n</tspan><tspan x="1803.67" y="1369.58" font-size="62.5" textLength="18.23" lengthAdjust="spacingAndGlyphs" stroke="#fff" stroke-width="0.40">(</tspan><tspan x="1823.26" y="1369.35" font-size="64.87" font-style="italic" textLength="16.95" lengthAdjust="spacingAndGlyphs" stroke-width="0.65">t</tspan><tspan x="1843.84" y="1369.58" font-size="62.5" textLength="19.01" lengthAdjust="spacingAndGlyphs" stroke="#fff" stroke-width="0.40">)</tspan><tspan stroke="none"> </tspan><tspan x="1884.3" y="1369.6" font-size="59.85" textLength="39.15" lengthAdjust="spacingAndGlyphs" stroke-width="0.60">w</tspan><tspan x="1925.8" y="1382.17" font-size="85.43" textLength="23.33" lengthAdjust="spacingAndGlyphs" stroke="#fff" stroke-width="0.80">/</tspan><tspan x="1950.54" y="1369.6" font-size="59.85" textLength="30.12" lengthAdjust="spacingAndGlyphs" stroke-width="0.60">o</tspan><tspan stroke="none"> </tspan><tspan x="1997.24" y="1369.6" font-size="59.85" textLength="120.87" lengthAdjust="spacingAndGlyphs" stroke-width="0.60">HWI</tspan></text>
<text fill="#000" stroke="#000"><tspan x="1599.1" y="1445.6" font-size="59.85" textLength="39.05" lengthAdjust="spacingAndGlyphs" stroke-width="0.60">w</tspan><tspan x="1641" y="1458.17" font-size="85.43" textLength="23.63" lengthAdjust="spacingAndGlyphs" stroke="#fff" stroke-width="0.80">/</tspan><tspan stroke="none"> </tspan><tspan x="1686.22" y="1445.6" font-size="58.99" font-style="italic" textLength="27.04" lengthAdjust="spacingAndGlyphs" stroke-width="0.59">k</tspan><tspan x="1714.36" y="1418.7" font-size="44.07" textLength="55.87" lengthAdjust="spacingAndGlyphs" stroke-width="0.44">opt</tspan><tspan x="1712.97" y="1460.7" font-size="38.79" font-style="italic" textLength="13.47" lengthAdjust="spacingAndGlyphs" stroke-width="0.39">i</tspan><tspan x="1726.37" y="1467" font-size="30.21" font-style="italic" textLength="27.43" lengthAdjust="spacingAndGlyphs" stroke-width="0.30">m</tspan><tspan x="1755.4" y="1460.26" font-size="49.32" textLength="10.67" lengthAdjust="spacingAndGlyphs" stroke-width="0.49">,</tspan><tspan x="1764.27" y="1460.7" font-size="38.79" font-style="italic" textLength="13.47" lengthAdjust="spacingAndGlyphs" stroke-width="0.39">i</tspan><tspan x="1777.7" y="1467" font-size="30.21" font-style="italic" textLength="20" lengthAdjust="spacingAndGlyphs" stroke-width="0.30">n</tspan><tspan x="1803.67" y="1445.58" font-size="62.5" textLength="18.23" lengthAdjust="spacingAndGlyphs" stroke="#fff" stroke-width="0.40">(</tspan><tspan x="1823.26" y="1445.35" font-size="64.87" font-style="italic" textLength="16.95" lengthAdjust="spacingAndGlyphs" stroke-width="0.65">t</tspan><tspan x="1843.84" y="1445.58" font-size="62.5" textLength="19.01" lengthAdjust="spacingAndGlyphs" stroke="#fff" stroke-width="0.40">)</tspan><tspan x="1862.6" y="1457.94" font-size="84.34" textLength="47.42" lengthAdjust="spacingAndGlyphs" stroke="#fff" stroke-width="1.40">+</tspan><tspan x="1908.18" y="1445.4" font-size="59.09" textLength="27.52" lengthAdjust="spacingAndGlyphs" stroke-width="0.59">1</tspan><tspan stroke="none"> </tspan><tspan x="1955.5" y="1445.6" font-size="59.85" textLength="38.45" lengthAdjust="spacingAndGlyphs" stroke-width="0.60">w</tspan><tspan x="1996.8" y="1458.17" font-size="85.43" textLength="23.33" lengthAdjust="spacingAndGlyphs" stroke="#fff" stroke-width="0.80">/</tspan><tspan x="2021.52" y="1445.6" font-size="59.85" textLength="30.35" lengthAdjust="spacingAndGlyphs" stroke-width="0.60">o</tspan><tspan stroke="none"> </tspan><tspan x="2068.34" y="1445.6" font-size="59.85" textLength="120.87" lengthAdjust="spacingAndGlyphs" stroke-width="0.60">HWI</tspan></text>
<text fill="#000" stroke="#000"><tspan x="1599.1" y="1521.6" font-size="59.85" textLength="39.05" lengthAdjust="spacingAndGlyphs" stroke-width="0.60">w</tspan><tspan x="1641" y="1534.17" font-size="85.43" textLength="23.63" lengthAdjust="spacingAndGlyphs" stroke="#fff" stroke-width="0.80">/</tspan><tspan stroke="none"> </tspan><tspan x="1686.22" y="1521.6" font-size="58.99" font-style="italic" textLength="27.04" lengthAdjust="spacingAndGlyphs" stroke-width="0.59">k</tspan><tspan x="1714.36" y="1494.7" font-size="44.07" textLength="55.87" lengthAdjust="spacingAndGlyphs" stroke-width="0.44">opt</tspan><tspan x="1712.97" y="1536.7" font-size="38.79" font-style="italic" textLength="13.47" lengthAdjust="spacingAndGlyphs" stroke-width="0.39">i</tspan><tspan x="1726.37" y="1543" font-size="30.21" font-style="italic" textLength="27.43" lengthAdjust="spacingAndGlyphs" stroke-width="0.30">m</tspan><tspan x="1755.4" y="1536.26" font-size="49.32" textLength="10.67" lengthAdjust="spacingAndGlyphs" stroke-width="0.49">,</tspan><tspan x="1764.27" y="1536.7" font-size="38.79" font-style="italic" textLength="13.47" lengthAdjust="spacingAndGlyphs" stroke-width="0.39">i</tspan><tspan x="1777.7" y="1543" font-size="30.21" font-style="italic" textLength="20" lengthAdjust="spacingAndGlyphs" stroke-width="0.30">n</tspan><tspan x="1803.67" y="1521.58" font-size="62.5" textLength="18.23" lengthAdjust="spacingAndGlyphs" stroke="#fff" stroke-width="0.40">(</tspan><tspan x="1823.26" y="1521.35" font-size="64.87" font-style="italic" textLength="16.95" lengthAdjust="spacingAndGlyphs" stroke-width="0.65">t</tspan><tspan x="1843.84" y="1521.58" font-size="62.5" textLength="19.01" lengthAdjust="spacingAndGlyphs" stroke="#fff" stroke-width="0.40">)</tspan><tspan stroke="none"> </tspan><tspan x="1884.1" y="1521.6" font-size="59.85" textLength="38.35" lengthAdjust="spacingAndGlyphs" stroke-width="0.60">w</tspan><tspan x="1925.6" y="1534.17" font-size="85.43" textLength="23.73" lengthAdjust="spacingAndGlyphs" stroke="#fff" stroke-width="0.80">/</tspan><tspan stroke="none"> </tspan><tspan x="1969.03" y="1521.6" font-size="59.85" textLength="121.08" lengthAdjust="spacingAndGlyphs" stroke-width="0.60">HWI</tspan></text>
<text fill="#000" stroke="#000"><tspan x="1599.1" y="1597.6" font-size="59.85" textLength="39.05" lengthAdjust="spacingAndGlyphs" stroke-width="0.60">w</tspan><tspan x="1641" y="1610.17" font-size="85.43" textLength="23.63" lengthAdjust="spacingAndGlyphs" stroke="#fff" stroke-width="0.80">/</tspan><tspan stroke="none"> </tspan><tspan x="1686.22" y="1597.6" font-size="58.99" font-style="italic" textLength="27.04" lengthAdjust="spacingAndGlyphs" stroke-width="0.59">k</tspan><tspan x="1714.36" y="1570.7" font-size="44.07" textLength="55.87" lengthAdjust="spacingAndGlyphs" stroke-width="0.44">opt</tspan><tspan x="1712.97" y="1612.7" font-size="38.79" font-style="italic" textLength="13.47" lengthAdjust="spacingAndGlyphs" stroke-width="0.39">i</tspan><tspan x="1726.37" y="1619" font-size="30.21" font-style="italic" textLength="27.43" lengthAdjust="spacingAndGlyphs" stroke-width="0.30">m</tspan><tspan x="1755.4" y="1612.26" font-size="49.32" textLength="10.67" lengthAdjust="spacingAndGlyphs" stroke-width="0.49">,</tspan><tspan x="1764.27" y="1612.7" font-size="38.79" font-style="italic" textLength="13.47" lengthAdjust="spacingAndGlyphs" stroke-width="0.39">i</tspan><tspan x="1777.7" y="1619" font-size="30.21" font-style="italic" textLength="20" lengthAdjust="spacingAndGlyphs" stroke-width="0.30">n</tspan><tspan x="1803.67" y="1597.58" font-size="62.5" textLength="18.23" lengthAdjust="spacingAndGlyphs" stroke="#fff" stroke-width="0.40">(</tspan><tspan x="1823.26" y="1597.35" font-size="64.87" font-style="italic" textLength="16.95" lengthAdjust="spacingAndGlyphs" stroke-width="0.65">t</tspan><tspan x="1843.84" y="1597.58" font-size="62.5" textLength="19.01" lengthAdjust="spacingAndGlyphs" stroke="#fff" stroke-width="0.40">)</tspan><tspan x="1862.15" y="1609.94" font-size="84.34" textLength="47.91" lengthAdjust="spacingAndGlyphs" stroke="#fff" stroke-width="1.40">+</tspan><tspan x="1908.38" y="1597.4" font-size="59.09" textLength="27.52" lengthAdjust="spacingAndGlyphs" stroke-width="0.59">1</tspan><tspan stroke="none"> </tspan><tspan x="1954.9" y="1597.6" font-size="59.85" textLength="38.95" lengthAdjust="spacingAndGlyphs" stroke-width="0.60">w</tspan><tspan x="1997" y="1610.17" font-size="85.43" textLength="23.73" lengthAdjust="spacingAndGlyphs" stroke="#fff" stroke-width="0.80">/</tspan><tspan stroke="none"> </tspan><tspan x="2039.52" y="1597.6" font-size="59.85" textLength="122.01" lengthAdjust="spacingAndGlyphs" stroke-width="0.60">HWI</tspan></text>
</g>
<rect x="373.0" y="900.0" width="650" height="487" fill="#fff"/>
<path d="M503.9 900.0V1387.0M709 900.0V1387.0M915.1 900.0V1387.0" stroke="#dfdfdf" stroke-width="4" fill="none"/>
<path d="M503.9 900.0v8.5M503.9 1387.0v-8.5M709 900.0v8.5M709 1387.0v-8.5M915.1 900.0v8.5M915.1 1387.0v-8.5" stroke="#262626" stroke-width="4" fill="none"/>
<rect x="373.0" y="900.0" width="650" height="487" fill="none" stroke="#262626" stroke-width="4"/>
<g fill="none" stroke-width="19.6" stroke-linejoin="round">
<polyline points="373,1216.9 709,1355.3 1023.2,1226.2" stroke="#f00" stroke-dasharray="75 74.1"/>
<polyline points="373,959.9 709,1098 1023.2,967.8" stroke="#00f" stroke-dasharray="75.3 17.7 38 18.1"/>
<polyline points="373,1185.1 709,1322.4 1023.2,1193.6" stroke="#0f0"/>
<polyline points="373,927.8 709,1066.3 1023.2,936.6" stroke="#000" stroke-dasharray="19.6 17.52"/>
</g>
<g font-family="'Liberation Serif',serif">
<text fill="#262626" stroke="#262626"><tspan x="430.03" y="1445.7" font-size="52" textLength="146.5" lengthAdjust="spacingAndGlyphs" stroke-width="0.52">499.95</tspan></text>
<text fill="#262626" stroke="#262626"><tspan x="668.73" y="1445.7" font-size="52" textLength="80.07" lengthAdjust="spacingAndGlyphs" stroke-width="0.52">500</tspan></text>
<text fill="#262626" stroke="#262626"><tspan x="840.84" y="1445.7" font-size="52" textLength="146.49" lengthAdjust="spacingAndGlyphs" stroke-width="0.52">500.05</tspan></text>
</g>
<rect x="1594.0" y="724.0" width="520" height="390" fill="#fff"/>
<path d="M1631.4 724.0V1114.0M1819 724.0V1114.0M2005.8 724.0V1114.0" stroke="#dfdfdf" stroke-width="4" fill="none"/>
<path d="M1631.4 724.0v7.2M1631.4 1114.0v-7.2M1819 724.0v7.2M1819 1114.0v-7.2M2005.8 724.0v7.2M2005.8 1114.0v-7.2" stroke="#262626" stroke-width="4" fill="none"/>
<rect x="1594.0" y="724.0" width="520" height="390" fill="none" stroke="#262626" stroke-width="4"/>
<g fill="none" stroke-width="19.6" stroke-linejoin="round">
<polyline points="1594,1065.3 2113.8,1054.5" stroke="#f00" stroke-dasharray="75 74.1"/>
<polyline points="1594,831.2 2113.8,822.4" stroke="#00f" stroke-dasharray="75.3 17.7 38 18.1"/>
<polyline points="1594,1037 2113.8,1026.7" stroke="#0f0"/>
<polyline points="1594,802.9 2113.8,793.2" stroke="#000" stroke-dasharray="19.6 17.52"/>
</g>
<g font-family="'Liberation Serif',serif">
<text fill="#262626" stroke="#262626"><tspan x="1575.31" y="1165.6" font-size="51.11" textLength="113.3" lengthAdjust="spacingAndGlyphs" stroke-width="0.51">800.3</tspan></text>
<text fill="#262626" stroke="#262626"><tspan x="1749.52" y="1165.6" font-size="51.11" textLength="137.89" lengthAdjust="spacingAndGlyphs" stroke-width="0.51">800.35</tspan></text>
<text fill="#262626" stroke="#262626"><tspan x="1948.9" y="1165.6" font-size="51.11" textLength="113.86" lengthAdjust="spacingAndGlyphs" stroke-width="0.51">800.4</tspan></text>
</g>
<g fill="#000" stroke="#000">
<path d="M1249.4 1537.4L1049.5 1178" stroke-width="5" fill="none"/>
<path d="M1027.6 1140.4L1081.9 1185.7L1051.1 1180.8L1039.4 1207.8Z" stroke-width="1.6" stroke-linejoin="round"/>
<path d="M1854.2 340.8L1856.1 671" stroke-width="4.2" fill="none"/>
<path d="M1856.1 716L1831.5 651.3L1856.1 669.2L1880.3 650.8Z" stroke-width="1.6" stroke-linejoin="round"/>
</g>
<g font-family="'Liberation Serif',serif">
<text fill="#262626" stroke="#262626"><tspan x="138.32" y="103.45" font-size="62.22" textLength="79.73" lengthAdjust="spacingAndGlyphs" stroke-width="0.62">1.5</tspan></text>
<text fill="#262626" stroke="#262626"><tspan x="107.37" y="368.45" font-size="62.22" textLength="110.55" lengthAdjust="spacingAndGlyphs" stroke-width="0.62">1.45</tspan></text>
<text fill="#262626" stroke="#262626"><tspan x="138.33" y="634.45" font-size="62.22" textLength="79.63" lengthAdjust="spacingAndGlyphs" stroke-width="0.62">1.4</tspan></text>
<text fill="#262626" stroke="#262626"><tspan x="107.37" y="899.45" font-size="62.22" textLength="110.55" lengthAdjust="spacingAndGlyphs" stroke-width="0.62">1.35</tspan></text>
<text fill="#262626" stroke="#262626"><tspan x="138.31" y="1164.45" font-size="62.22" textLength="79.84" lengthAdjust="spacingAndGlyphs" stroke-width="0.62">1.3</tspan></text>
<text fill="#262626" stroke="#262626"><tspan x="107.37" y="1429.95" font-size="62.22" textLength="110.55" lengthAdjust="spacingAndGlyphs" stroke-width="0.62">1.25</tspan></text>
<text fill="#262626" stroke="#262626"><tspan x="137.47" y="1695.45" font-size="62.22" textLength="81.83" lengthAdjust="spacingAndGlyphs" stroke-width="0.62">1.2</tspan></text>
<text fill="#262626" stroke="#262626"><tspan x="227.44" y="1757.2" font-size="62.22" textLength="31.53" lengthAdjust="spacingAndGlyphs" stroke-width="0.62">0</tspan></text>
<text fill="#262626" stroke="#262626"><tspan x="397.01" y="1757.2" font-size="62.22" textLength="94.04" lengthAdjust="spacingAndGlyphs" stroke-width="0.62">100</tspan></text>
<text fill="#262626" stroke="#262626"><tspan x="599.03" y="1757.2" font-size="62.22" textLength="94.33" lengthAdjust="spacingAndGlyphs" stroke-width="0.62">200</tspan></text>
<text fill="#262626" stroke="#262626"><tspan x="801.28" y="1757.2" font-size="62.22" textLength="92.23" lengthAdjust="spacingAndGlyphs" stroke-width="0.62">300</tspan></text>
<text fill="#262626" stroke="#262626"><tspan x="1003.78" y="1757.2" font-size="62.22" textLength="91.4" lengthAdjust="spacingAndGlyphs" stroke-width="0.62">400</tspan></text>
<text fill="#262626" stroke="#262626"><tspan x="1203.1" y="1757.2" font-size="62.22" textLength="93.84" lengthAdjust="spacingAndGlyphs" stroke-width="0.62">500</tspan></text>
<text fill="#262626" stroke="#262626"><tspan x="1404.87" y="1757.2" font-size="62.22" textLength="92.85" lengthAdjust="spacingAndGlyphs" stroke-width="0.62">600</tspan></text>
<text fill="#262626" stroke="#262626"><tspan x="1605.5" y="1757.2" font-size="62.22" textLength="94.67" lengthAdjust="spacingAndGlyphs" stroke-width="0.62">700</tspan></text>
<text fill="#262626" stroke="#262626"><tspan x="1807.66" y="1757.2" font-size="62.22" textLength="93.68" lengthAdjust="spacingAndGlyphs" stroke-width="0.62">800</tspan></text>
<text fill="#262626" stroke="#262626"><tspan x="2009.28" y="1757.2" font-size="62.22" textLength="93.36" lengthAdjust="spacingAndGlyphs" stroke-width="0.62">900</tspan></text>
<text fill="#262626" stroke="#262626"><tspan x="2194.61" y="1757.2" font-size="62.22" textLength="125.44" lengthAdjust="spacingAndGlyphs" stroke-width="0.62">1000</tspan></text>
<text fill="#262626" stroke="#262626"><tspan x="245.75" y="75.7" font-size="73.87" textLength="41.92" lengthAdjust="spacingAndGlyphs" stroke-width="0.74">×</tspan><tspan x="290.62" y="66.1" font-size="62.22" textLength="62.63" lengthAdjust="spacingAndGlyphs" stroke-width="0.62">10</tspan><tspan x="353" y="49.7" font-size="50" textLength="32.75" lengthAdjust="spacingAndGlyphs" stroke-width="0.50">−</tspan><tspan x="385.79" y="44.56" font-size="44.46" textLength="22.46" lengthAdjust="spacingAndGlyphs" stroke-width="0.44">6</tspan></text>
<text fill="#262626" stroke="#262626"><tspan x="941.07" y="1842.9" font-size="73.44" textLength="222.53" lengthAdjust="spacingAndGlyphs" stroke-width="0.73">Moving</tspan><tspan stroke="none"> </tspan><tspan x="1184.39" y="1842.9" font-size="73.44" textLength="244.45" lengthAdjust="spacingAndGlyphs" stroke-width="0.73">distance</tspan><tspan stroke="none"> </tspan><tspan x="1452.3" y="1842.9" font-size="73.44" textLength="105.4" lengthAdjust="spacingAndGlyphs" stroke-width="0.73">(m)</tspan></text>
<text transform="rotate(-90)" fill="#262626" stroke="#262626"><tspan x="-1172.13" y="65.6" font-size="73.44" textLength="167.93" lengthAdjust="spacingAndGlyphs" stroke-width="0.73">Delay</tspan><tspan stroke="none"> </tspan><tspan x="-982.29" y="65.6" font-size="73.44" textLength="194.91" lengthAdjust="spacingAndGlyphs" stroke-width="0.73">spread</tspan><tspan stroke="none"> </tspan><tspan x="-768.83" y="65.75" font-size="74.2" font-style="italic" textLength="48.13" lengthAdjust="spacingAndGlyphs" stroke="#fff" stroke-width="1.00">T</tspan><tspan x="-725.33" y="76.42" font-size="47.8" font-style="italic" textLength="23.81" lengthAdjust="spacingAndGlyphs" stroke-width="0.48">d</tspan><tspan stroke="none"> </tspan><tspan x="-670.65" y="65.6" font-size="73.44" textLength="73.21" lengthAdjust="spacingAndGlyphs" stroke-width="0.73">(s)</tspan></text>
</g>
</svg>
</body></html>
